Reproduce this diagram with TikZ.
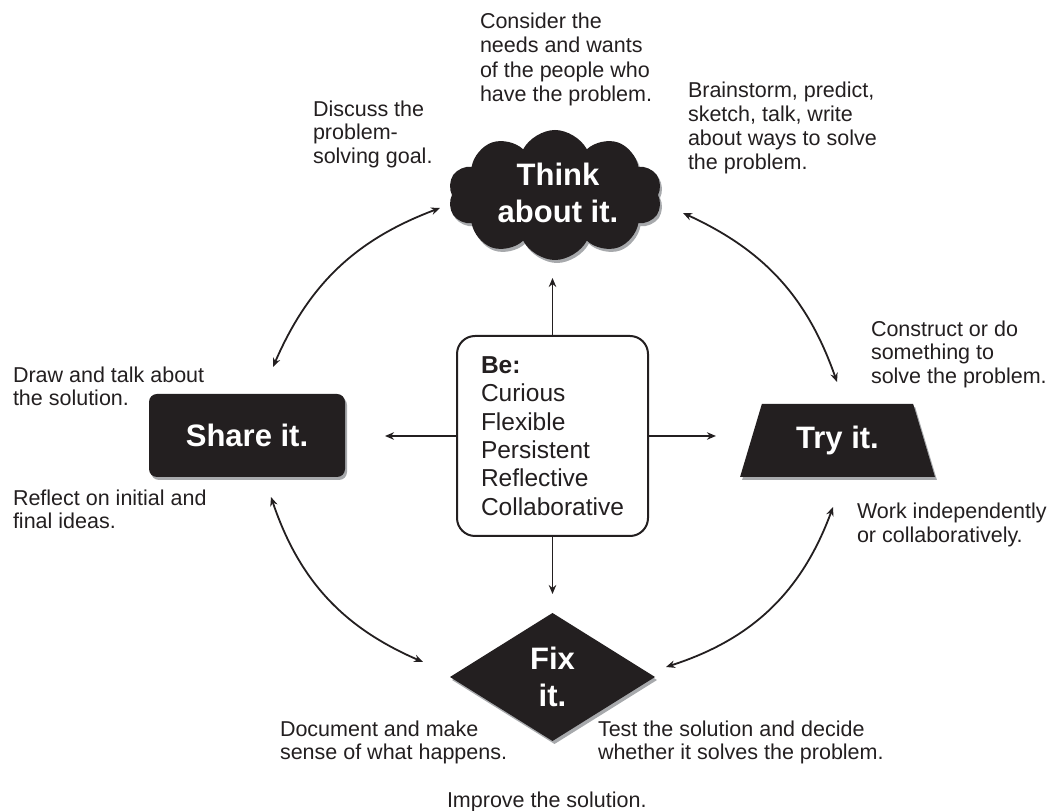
\documentclass[tikz,border=0pt]{standalone}
\usepackage{fontspec}
\setmainfont{Liberation Sans}
\usetikzlibrary{shapes.geometric,shapes.symbols,shadows,arrows.meta}
\definecolor{ink}{HTML}{231F20}
\definecolor{shade}{HTML}{A7A9AC}

\begin{document}
\begin{tikzpicture}[x=1pt,y=1pt,
  every node/.style={inner sep=0pt, outer sep=0pt},
  note/.style={anchor=north west, align=left, text=ink,
    font=\fontsize{21.5}{23.5}\selectfont},
  stage/.style={fill=ink, text=white, align=center,
    font=\fontsize{31}{37}\selectfont\bfseries,
    drop shadow={shadow xshift=2pt, shadow yshift=-3pt, fill=shade, opacity=1}},
  stagetext/.style={text=white, align=center,
    font=\fontsize{31}{37}\selectfont\bfseries},
  arr/.style={-{Stealth[length=9pt,width=7.5pt]}, line width=1.8pt, draw=ink},
  dbl/.style={{Stealth[length=9pt,width=7.5pt]}-{Stealth[length=9pt,width=7.5pt]},
    line width=1.8pt, draw=ink},
]
\useasboundingbox (0,0) rectangle (1052,811);

% the four stages
\node[stage, cloud, cloud puffs=10, cloud puff arc=125, cloud ignores aspect,
      minimum width=214pt, minimum height=130pt] (think) at (555,616) {};
\node[stagetext] (thinktext) at (558,618) {Think\\about it.};

\node[stage, rounded corners=8pt, minimum width=196pt, minimum height=83pt]
  (share) at (247,375.5) {Share it.};

\node[stage, trapezium, trapezium left angle=67.6, trapezium right angle=67.6,
      trapezium stretches=true, minimum width=195pt, minimum height=73pt]
  (try) at (837.5,370.5) {Try it.};

\node[stage, diamond, aspect=1.6, minimum width=205pt, minimum height=128pt]
  (fix) at (552.5,134) {Fix\\it.};

% the attitudes box in the middle
\node[draw=ink, line width=2pt, rounded corners=18pt, fill=white,
      minimum width=191pt, minimum height=200pt, align=left, text=ink,
      font=\fontsize{24.5}{28.4}\selectfont]
  (be) at (552.5,375)
  {\textbf{Be:}\\Curious\\Flexible\\Persistent\\Reflective\\Collaborative};

% straight arrows out of the middle box
\draw[arr, shorten >=18pt] (be.north) -- (be.north |- think.south);
\draw[arr, shorten >=19pt] (be.south) -- (be.south |- fix.north);
\draw[arr, shorten >=40pt] (be.west) -- (be.west -| share.east);
\draw[arr, shorten >=35pt] (be.east) -- (be.east -| try.west);

% ends of the cycle arrows
\coordinate (shareUp)   at (273,444);
\coordinate (thinkLeft) at (440,603);
\coordinate (thinkRight) at (683,598);
\coordinate (tryUp)     at (837,429);
\coordinate (tryDown)   at (833,304);
\coordinate (fixRight)  at (666,144);
\coordinate (fixLeft)   at (423,149);
\coordinate (shareDown) at (271,314);

\draw[dbl] (shareUp) to[bend left=23] (thinkLeft);
\draw[dbl] (thinkRight) to[bend left=23] (tryUp);
\draw[dbl] (tryDown) to[bend left=26] (fixRight);
\draw[dbl] (fixLeft) to[bend left=24] (shareDown);

% notes around the cycle
\node[note, font=\fontsize{21.5}{24.5}\selectfont] (nConsider) at (480,798.5)
  {Consider the\\needs and wants\\of the people who\\have the problem.};
\node[note] (nDiscuss) at (313,710.5) {Discuss the\\problem-\\solving goal.};
\node[note, font=\fontsize{21.5}{24}\selectfont] (nBrain) at (688,729.5)
  {Brainstorm, predict,\\sketch, talk, write\\about ways to solve\\the problem.};
\node[note] (nConstruct) at (871,490.5)
  {Construct or do\\something to\\solve the problem.};
\node[note] (nDraw) at (13,444.5) {Draw and talk about\\the solution.};
\node[note] (nReflect) at (13,321.5) {Reflect on initial and\\final ideas.};
\node[note, font=\fontsize{21.5}{24}\selectfont] (nWork) at (857,308.5)
  {Work independently\\or collaboratively.};
\node[note] (nDocument) at (280,90.5) {Document and make\\sense of what happens.};
\node[note] (nTest) at (598,90.5)
  {Test the solution and decide\\whether it solves the problem.};
\node[note] (nImprove) at (447,19.5) {Improve the solution.};
\end{tikzpicture}
\end{document}
